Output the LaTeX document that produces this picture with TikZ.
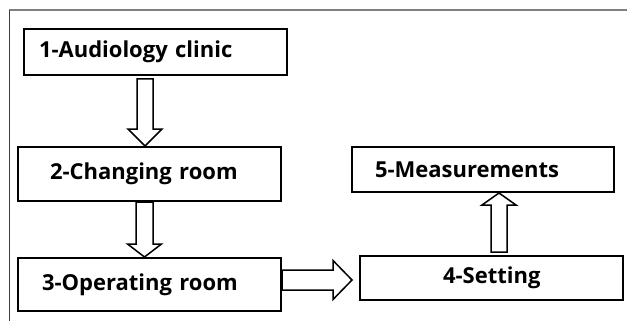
\documentclass[tikz,border=0pt]{standalone}
\usepackage{fontspec}
\setmainfont{Open Sans}
\usepackage{tikz}
\usetikzlibrary{calc}

\begin{document}
\begin{tikzpicture}[
x                 = 1pt,
y                 = -1pt,
every node/.style = {font=\bfseries\fontsize{22}{26}\selectfont},
box/.style        = {draw, line width=1.6pt, rectangle, align=left, inner ysep=0pt},
hollow/.style n args = {3}{draw, line width=1.5pt, fill=white, line join=miter,
  to path={($(\tikztotarget)!#1!(\tikztostart)$) coordinate (hb)
    ($(\tikztostart)!#2!90:(\tikztotarget)$) -- ($(hb)!#2!90:(\tikztotarget)$)
    -- ($(hb)!#3!90:(\tikztotarget)$) -- (\tikztotarget)
    -- ($(hb)!#3!-90:(\tikztotarget)$) -- ($(hb)!#2!-90:(\tikztotarget)$)
    -- ($(\tikztostart)!#2!-90:(\tikztotarget)$) -- cycle}}
]

\useasboundingbox (0,0) rectangle (627,321);

% frame
\coordinate (corner) at (9,10);
\draw[gray, line width=1.5pt] (corner) -- (627,10);
\draw[black!75, line width=0.8pt] (corner) -- (9,321);

\node [box, inner xsep=15.2pt, text width=233pt, minimum height=46.4pt] (clinic)    at (155.5,52)  {1-Audiology clinic};
\node [box, inner xsep=32.2pt, text width=199pt, minimum height=54.4pt] (changing)  at (149.5,174) {2-Changing room};
\node [box, inner xsep=24.2pt, text width=215pt, minimum height=53.4pt] (operating) at (149.5,284.5) {3-Operating room};
\node [box, inner xsep=83.2pt, text width=97pt,  minimum height=44.4pt] (setting)   at (491.5,278) {\mbox{4-Setting}};
\node [box, inner xsep=23.2pt, text width=216pt, minimum height=45.4pt] (measure)   at (483,169.5) {5-Measurements};

%\coordinate (s1) at (145,79);
\coordinate (s1) at ([xshift=-10.5pt,yshift=-3pt]clinic.south);
\coordinate (e1) at (s1 |- changing.north);
\coordinate (s2) at ([xshift=-5pt]changing.south);
\coordinate (e2) at (s2 |- operating.north);
\coordinate (s3) at ([yshift=4.5pt]operating.east);
\coordinate (e3) at ($(s3 -| setting.west)+(-7,0)$);
\coordinate (s4) at ([xshift=7.5pt,yshift=3pt]setting.north);
\coordinate (e4) at (s4 |- measure.south);

\draw[hollow={17pt}{8pt}{17pt}]    (s1) to (e1);
\draw[hollow={13pt}{8.5pt}{17pt}]  (s2) to (e2);
\draw[hollow={19pt}{10pt}{19.5pt}] (s3) to (e3);
\draw[hollow={12pt}{8pt}{17pt}]    (s4) to (e4);
\end{tikzpicture}
\end{document}
